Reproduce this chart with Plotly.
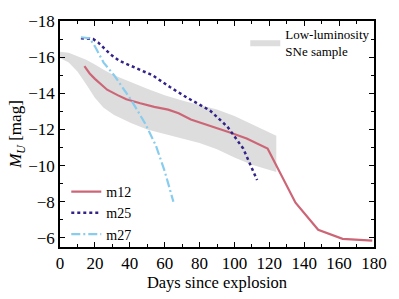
import plotly.graph_objects as go

# ---- data ----
band_days = [0, 5, 10, 15, 20, 25, 31, 41, 50, 60, 70, 80, 90, 100, 110, 124]
band_upper = [-16.3, -16.25, -16.05, -15.85, -15.6, -15.3, -15.0, -14.6, -14.25, -13.9, -13.6, -13.35, -13.1, -12.75, -12.3, -11.65]
band_lower = [-15.95, -15.7, -15.2, -14.5, -13.75, -13.2, -12.8, -12.35, -12.0, -11.75, -11.5, -11.25, -10.9, -10.45, -10.05, -9.65]

m12_days = [14, 17, 20, 24, 27, 33, 38, 46, 54, 62, 68, 75, 80, 90, 97, 107, 119, 135, 148, 162, 179]
m12_mag = [-15.5, -15.1, -14.8, -14.45, -14.2, -13.9, -13.67, -13.45, -13.25, -13.1, -12.9, -12.55, -12.4, -12.1, -11.85, -11.5, -10.95, -7.95, -6.45, -5.95, -5.85]

m25_days = [12, 19, 22, 25, 29, 34, 44, 53, 63, 73, 86, 96, 105, 113]
m25_mag = [-17.05, -17.0, -16.8, -16.5, -16.15, -15.8, -15.4, -15.0, -14.35, -13.75, -13.05, -12.15, -10.95, -9.2]

m27_days = [12, 17, 20, 25, 31, 37, 41, 49, 55, 60, 65]
m27_mag = [-17.1, -17.05, -16.6, -15.7, -15.0, -14.2, -13.6, -12.3, -11.1, -9.7, -8.0]

FONT = "Liberation Serif"

fig = go.Figure()
fig.add_trace(go.Scatter(
    x=band_days + band_days[::-1], y=band_upper + band_lower[::-1],
    fill="toself", fillcolor="#dddddd", line=dict(width=0), mode="lines",
    name="Low-luminosity<br>SNe sample", legend="legend", showlegend=True, hoverinfo="skip"))
fig.add_trace(go.Scatter(x=m12_days, y=m12_mag, mode="lines", name="m12", showlegend=True,
                         line=dict(color="#CC6677", width=2.2), legend="legend2"))
fig.add_trace(go.Scatter(x=m25_days, y=m25_mag, mode="lines", name="m25", showlegend=True,
                         line=dict(color="#332288", width=2.5, dash="3px,3px"), legend="legend2"))
fig.add_trace(go.Scatter(x=m27_days, y=m27_mag, mode="lines", name="m27", showlegend=True,
                         line=dict(color="#88CCEE", width=2.2, dash="9px,3px,2px,3px"), legend="legend2"))

axis_common = dict(showline=True, linecolor="black", linewidth=1.5, mirror="allticks",
                   ticks="inside", ticklen=5, tickwidth=1.2, tickcolor="black",
                   showgrid=False, zeroline=False,
                   tickfont=dict(family=FONT, size=17, color="black"))

fig.update_xaxes(range=[0, 180], dtick=20, tick0=0,
                 minor=dict(dtick=10, ticks="inside", ticklen=3, tickcolor="black", tickwidth=1),
                 title=dict(text="Days since explosion", font=dict(family=FONT, size=16.5, color="black"), standoff=2),
                 **axis_common)
fig.update_yaxes(range=[-5.5, -18], dtick=2, tick0=0,
                 minor=dict(dtick=1, ticks="inside", ticklen=3, tickcolor="black", tickwidth=1),
                 title=dict(text="<i>M</i><sub><i>U</i></sub> [mag]", font=dict(family=FONT, size=17, color="black"), standoff=2),
                 **axis_common)

fig.update_layout(
    width=399, height=299,
    margin=dict(l=60, r=20, t=15, b=46),
    plot_bgcolor="white", paper_bgcolor="white",
    showlegend=True,
    font=dict(family=FONT, color="black"),
    legend=dict(x=0.59, y=1.01, xanchor="left", yanchor="top", bgcolor="rgba(0,0,0,0)",
                font=dict(family=FONT, size=13), itemwidth=30, tracegroupgap=0),
    legend2=dict(x=0.02, y=0.314, xanchor="left", yanchor="top", bgcolor="rgba(0,0,0,0)",
                 font=dict(family=FONT, size=14), itemwidth=30, tracegroupgap=0),
)

fig.write_html("out.html", config={"displayModeBar": False},
               post_script="document.body.style.margin='0';document.body.style.overflow='hidden';")
